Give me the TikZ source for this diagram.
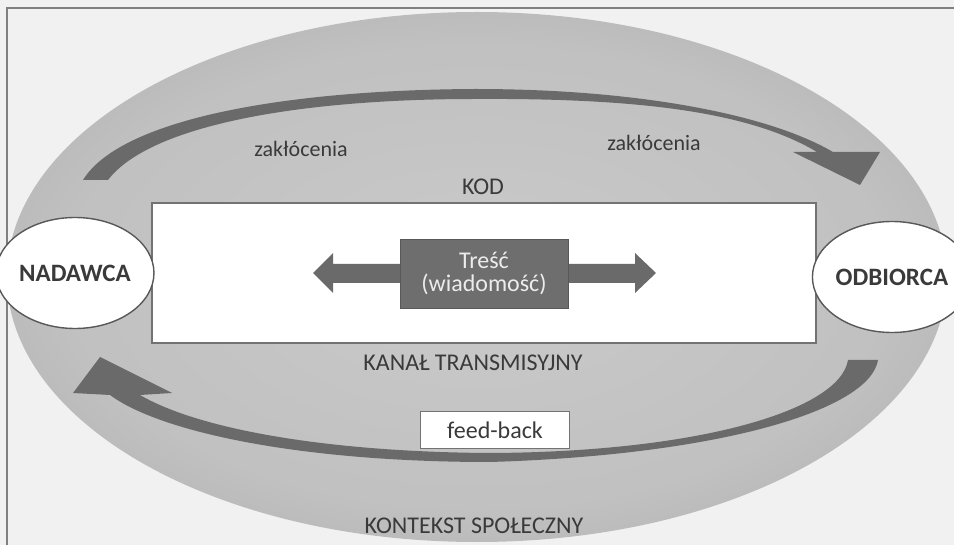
\documentclass[tikz,border=0pt]{standalone}
\usepackage{fontspec}
\setmainfont{Carlito}
\usetikzlibrary{positioning,shapes.geometric}

\definecolor{paper}{HTML}{F1F1F1}
\definecolor{ringgray}{HTML}{A4A4A4}
\definecolor{midgray}{HTML}{CACACA}
\definecolor{arrowgray}{HTML}{6A6A6A}
\definecolor{inkgray}{HTML}{3A3A3A}
\definecolor{boxgray}{HTML}{6E6E6E}

\pgfdeclareradialshading{ringshade}{\pgfpoint{0bp}{0bp}}{%
  color(0bp)=(midgray); color(22bp)=(midgray!75!ringgray);
  color(40bp)=(ringgray); color(50bp)=(ringgray!92!black); color(60bp)=(ringgray!92!black)}

\begin{document}
\begin{tikzpicture}[x=1pt,y=-1pt,
  person node/.style={ellipse,draw=inkgray!85,line width=1.4pt,fill=white,
    minimum width=123pt,minimum height=111pt,inner sep=0pt,text=inkgray,
    font=\fontsize{25}{28}\selectfont\bfseries},
  label text/.style={text=inkgray,inner sep=0pt,font=\fontsize{24}{26}\selectfont},
  noise text/.style={text=inkgray,inner sep=0pt,font=\fontsize{22}{24}\selectfont},
  arrow band/.style={fill=arrowgray}]

  \useasboundingbox (0,0) rectangle (954,545);
  \fill[paper] (0,0) rectangle (954,545);
  \draw[gray,line width=1.2pt] (7,545) -- (7,8) -- (954,8);

  \shade[shading=ringshade] (477,277) ellipse [x radius=470pt,y radius=265pt];

  \fill[arrow band] (83,180) .. controls (120,120) and (280,90) .. (475,89)
    .. controls (640,89) and (770,115) .. (833,152)
    -- (880,152) -- (860,185) -- (793,152) -- (817,152)
    .. controls (750,112) and (640,98) .. (475,99)
    .. controls (300,99) and (150,125) .. (108,180) -- cycle;

  \fill[arrow band] (878,360) .. controls (870,410) and (720,455) .. (490,462)
    .. controls (300,462) and (160,432) .. (110,395)
    -- (73,393) -- (100,357) -- (172,393) -- (140,395)
    .. controls (200,430) and (330,452) .. (490,453)
    .. controls (700,452) and (840,410) .. (848,360) -- cycle;

  \node[draw=gray!90!black,line width=1.4pt,fill=white,minimum width=664pt,
    minimum height=140pt] (kanal) at (484,273) {};

  \fill[arrow band] (313,273) -- (333,253) -- (333,264) -- (635,264) -- (635,253)
    -- (656,273) -- (635,293) -- (635,283) -- (333,283) -- (333,293) -- cycle;

  \node[fill=boxgray,draw=boxgray!80!black,minimum width=168pt,minimum height=69pt,
    align=center,text=gray!15,font=\fontsize{24}{23}\selectfont] (tresc) at (484,273.5)
    {Treść\\(wiadomość)};

  \node[person node] (nadawca) at (75,273) {NADAWCA};
  \node[person node] (odbiorca) at (892,277) {ODBIORCA};

  \node[label text] (kod) at (483,187) {KOD};
  \node[label text] (kanal label) at (473,363) {KANAŁ TRANSMISYJNY};
  \node[label text] (kontekst) at (474,526) {KONTEKST SPOŁECZNY};
  \node[noise text] (zak left) at (301,149) {zakłócenia};
  \node[noise text] (zak right) at (654,143) {zakłócenia};

  \node[draw=gray!90!black,line width=1.2pt,fill=white,minimum width=149pt,
    minimum height=37pt,text=inkgray,font=\fontsize{24}{26}\selectfont] (feedback)
    at (495,430) {feed-back};

\end{tikzpicture}
\end{document}
